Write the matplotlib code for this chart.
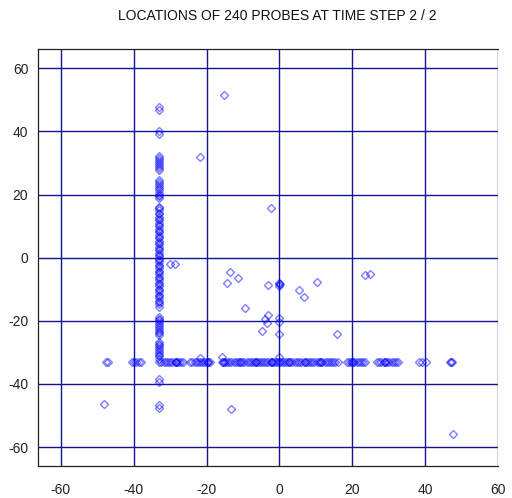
import matplotlib
matplotlib.use("Agg")
import matplotlib.pyplot as plt

plt.rcParams["font.family"] = ["Liberation Sans", "DejaVu Sans"]
plt.rcParams["axes.unicode_minus"] = False

# probes sitting on the vertical line x = -33
col_x = -33.0
col_y = [
    47.6, 46.9,
    40.1, 39.3,
    32.2, 31.6, 31.0, 30.4, 29.8, 29.1, 28.5, 27.9,
    24.6, 24.0, 23.3, 22.6, 22.0, 21.3, 20.6, 20.0, 19.5, 18.9,
    16.2, 15.6, 15.0, 14.3, 13.7, 13.0, 12.4, 11.8, 11.1, 10.5,
    9.9, 9.2, 8.6, 8.0, 7.3, 6.7, 6.1, 5.4, 4.8, 4.2,
    3.5, 2.9, 2.3, 1.6, 1.0, 0.4, -0.3, -0.9, -1.5, -2.2,
    -2.8, -3.4, -4.1, -4.7, -5.3, -6.0, -6.6, -7.2, -7.9, -8.5,
    -9.1, -9.8, -10.4, -11.0, -11.7, -12.3, -12.9, -13.6, -14.2, -14.8, -15.5,
    -18.7, -19.3, -19.9, -20.5, -21.1, -21.7, -22.3, -22.9, -23.5, -24.0, -24.4,
    -26.6, -27.2, -27.8, -28.4, -29.0, -29.6, -30.2, -30.7, -31.3, -32.0,
    -38.4, -39.3, -46.8, -47.5,
]

# probes sitting on the horizontal line y = -33
row_y = -33.0
row_x = [
    -47.6, -47.0,
    -40.6, -40.0, -39.3, -38.6, -37.9,
    -33.0, -32.4, -31.8, -31.2, -30.6, -30.0, -29.4, -28.8, -28.5, -28.3,
    -28.2, -27.6, -27.0, -26.4,
    -24.5, -23.9, -23.3, -22.7, -22.1, -21.5, -20.9, -20.3, -19.9, -19.7,
    -19.5, -19.0,
    -15.8, -15.5, -15.3, -15.0, -14.4, -13.8, -13.2, -12.6, -12.0, -11.4,
    -10.9, -10.7, -10.2, -9.6, -9.0, -8.4, -7.8, -7.2, -6.6, -6.5,
    -6.3, -6.0, -5.4, -4.8, -4.2, -3.6, -3.0, -2.4, -2.2, -2.0,
    -1.8, -1.2, -0.6, -0.1, 0.1, 0.6, 1.2, 1.8, 2.4, 2.6,
    3.0, 3.6, 4.2, 4.8, 5.4, 6.0, 6.8, 7.0, 7.2, 7.8,
    8.4, 9.0, 9.6, 10.2, 10.8, 11.1, 11.3, 11.8, 12.4, 13.0,
    13.6, 14.2, 14.8, 15.4, 16.2,
    18.5, 19.1, 19.7, 19.9, 20.1, 20.6, 21.2, 21.8, 22.4, 23.0, 23.5,
    26.8, 27.4, 28.0, 28.6, 28.9, 29.1, 29.6, 30.2, 30.8, 31.4, 32.0, 32.7,
    38.3, 39.2, 40.2,
    47.0, 47.2, 47.4,
]

# scattered probes away from the two lines
free_x = [-15.2, -21.8, -2.3, -30.0, -28.6, -13.5, -11.4, -14.5, -3.0,
          -0.2, 0.0, 0.2, 0.0, 5.5, 6.8, 10.4, 23.4, 25.0, -9.4,
          -3.2, -3.9, -3.5, -4.8, 0.0, 0.0, 0.0, 15.8, -21.8, -15.8,
          0.0, -48.2, -13.3, 47.7]
free_y = [51.5, 31.9, 15.7, -2.0, -2.0, -4.4, -6.5, -8.1, -8.8,
          -8.3, -8.0, -8.5, -9.0, -10.2, -12.6, -7.8, -5.4, -5.2, -16.0,
          -18.1, -19.5, -20.7, -23.2, -19.2, -20.5, -24.1, -24.1, -31.8, -31.4,
          -31.5, -46.3, -47.9, -56.0]

n_probes = 240
step, n_steps = 2, 2
ticks = [-60, -40, -20, 0, 20, 40, 60]

xs = [col_x] * len(col_y) + row_x + free_x
ys = col_y + [row_y] * len(row_x) + free_y

fig = plt.figure(figsize=(5.12, 4.98), dpi=100)
ax = fig.add_axes([38 / 512, 1 - 466 / 498, 460 / 512, 417 / 498])

ax.plot(xs, ys, linestyle="none", marker="D", markersize=4.1,
        markerfacecolor="none", markeredgecolor="#0000ff",
        markeredgewidth=1.0, alpha=0.5, zorder=3)

ax.set_xlim(-66.3, 60.05)
ax.set_ylim(-66.0, 66.1)
ax.set_xticks(ticks)
ax.set_yticks(ticks)
ax.grid(True, color="#14149a", linewidth=1.0)
ax.set_axisbelow(True)
ax.tick_params(length=0, labelsize=10, colors="#222222")
ax.tick_params(axis="x", pad=12)
ax.tick_params(axis="y", pad=7)

for side in ("left", "top", "bottom"):
    ax.spines[side].set_color("#222222")
    ax.spines[side].set_linewidth(0.9)
ax.spines["right"].set_visible(False)

fig.text(277 / 512, 1 - 16 / 498,
         f"LOCATIONS OF {n_probes} PROBES AT TIME STEP {step} / {n_steps}",
         ha="center", va="center", fontsize=10, color="#111111")

fig.savefig("out.png", dpi=100)
